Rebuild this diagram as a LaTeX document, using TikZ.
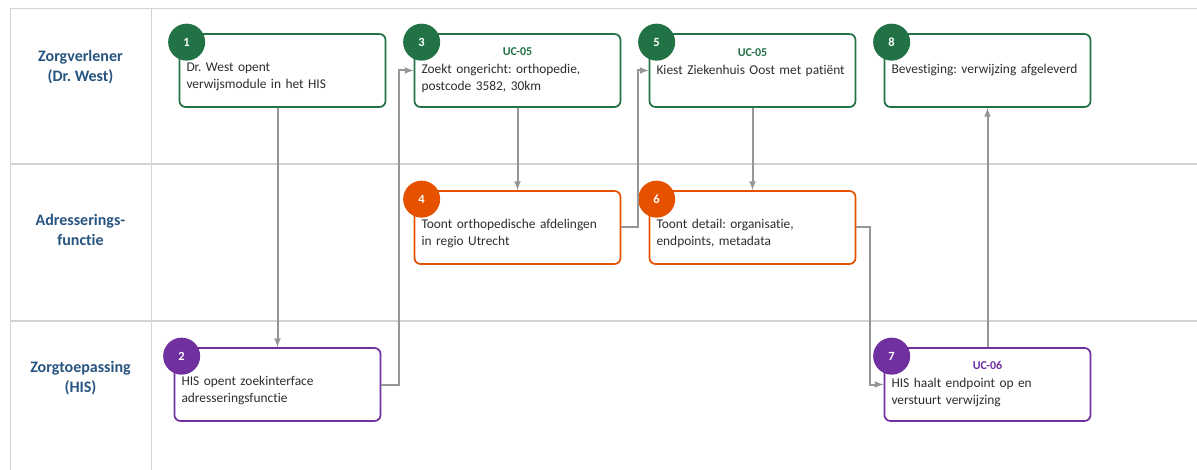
\documentclass[tikz,border=0pt]{standalone}
\usepackage{fontspec}
\setmainfont{Carlito}[Ligatures=NoCommon]
\usepackage{tikz}
\usetikzlibrary{arrows}
\definecolor{zvgreen}{RGB}{33,115,70}
\definecolor{adorange}{RGB}{230,81,0}
\definecolor{hispurple}{RGB}{112,48,160}
\definecolor{laneblue}{RGB}{40,84,128}
\definecolor{txtgray}{RGB}{45,45,45}
\definecolor{linegray}{RGB}{150,150,150}
\definecolor{gridgray}{RGB}{212,212,212}
\frenchspacing
\newcommand{\toprl}{\rule{0pt}{21pt}}
\newcommand{\ucline}[2]{\makebox[192pt][c]{\fontsize{12}{17}\selectfont\bfseries\textcolor{#1}{UC-#2}}}
\tikzstyle{stepbox} = [rectangle, rounded corners=6pt, minimum width=206pt, minimum height=73pt, text width=192pt, inner xsep=7pt, inner ysep=0pt, align=left, line width=1.7pt, fill=white, text=txtgray, font=\fontsize{13.4}{17.5}\selectfont]
\tikzstyle{zv} = [stepbox, draw=zvgreen]
\tikzstyle{ad} = [stepbox, draw=adorange]
\tikzstyle{his} = [stepbox, draw=hispurple]
\tikzstyle{badge} = [circle, minimum size=37pt, inner sep=0pt, text=white, font=\fontsize{12.5}{12.5}\selectfont\bfseries]
\tikzstyle{lane} = [text=laneblue, align=center, font=\fontsize{16}{20}\selectfont\bfseries]
\tikzstyle{arrow} = [line width=2pt, draw=linegray, ->, >=latex]
\tikzstyle{grid} = [draw=gridgray, line width=1pt]

\begin{document}
\begin{tikzpicture}[x=1pt, y=1pt, node distance=235pt]
\useasboundingbox (0,0) rectangle (1197,-470);

% lanes
\draw [grid] (10,-470) -- (10,-9) -- (1197,-9);
\draw [grid] (151,-9) -- (151,-470);
\draw [grid, line width=2.5pt] (10,-164) -- (1197,-164);
\draw [grid, line width=2.5pt] (10,-321) -- (1197,-321);

\node (lane1) [lane] at (80.5,-67) {Zorgverlener\\(Dr. West)};
\node (lane2) [lane] at (80.5,-230) {Adresserings-\\functie};
\node (lane3) [lane] at (80.5,-378) {Zorgtoepassing\\(HIS)};

% steps
\node (b1) [zv] at (282.5,-70.5) {\toprl Dr. West opent\\verwijsmodule in het HIS};
\node (b3) [zv, right of=b1] {\ucline{zvgreen}{05}\\Zoekt ongericht: orthopedie,\\postcode 3582, 30km};
\node (b5) [zv, right of=b3] {\ucline{zvgreen}{05}\\Kiest Ziekenhuis Oost met patiënt\\\mbox{}};
\node (b8) [zv, right of=b5] {Bevestiging: verwijzing afgeleverd};
\node (b4) [ad, below of=b3, node distance=157pt] {\toprl Toont orthopedische afdelingen\\in regio Utrecht};
\node (b6) [ad, below of=b5, node distance=157pt] {\toprl Toont detail: organisatie,\\endpoints, metadata};
\node (b2) [his, below of=b1, node distance=314pt, xshift=-5pt] {\toprl HIS opent zoekinterface\\adresseringsfunctie};
\node (b7) [his, below of=b8, node distance=314pt] {\ucline{hispurple}{06}\\HIS haalt endpoint op en\\verstuurt verwijzing};

% numbers
\node (n1) [badge, fill=zvgreen] at ([shift={(8pt,-9pt)}]b1.north west) {1};
\node (n2) [badge, fill=hispurple] at ([shift={(8pt,-9pt)}]b2.north west) {2};
\node (n3) [badge, fill=zvgreen] at ([shift={(8pt,-9pt)}]b3.north west) {3};
\node (n4) [badge, fill=adorange] at ([shift={(8pt,-9pt)}]b4.north west) {4};
\node (n5) [badge, fill=zvgreen] at ([shift={(8pt,-9pt)}]b5.north west) {5};
\node (n6) [badge, fill=adorange] at ([shift={(8pt,-9pt)}]b6.north west) {6};
\node (n7) [badge, fill=hispurple] at ([shift={(8pt,-9pt)}]b7.north west) {7};
\node (n8) [badge, fill=zvgreen] at ([shift={(8pt,-9pt)}]b8.north west) {8};

\draw [arrow] (b1.south -| b2.north) -- (b2.north);
\draw [arrow] (b2.east) -- ++(18pt,0) |- (b3.west);
\draw [arrow] (b3.south) -- (b3.south |- b4.north);
\draw [arrow] (b4.east) -- ++(17pt,0) |- (b5.west);
\draw [arrow] (b5.south) -- (b5.south |- b6.north);
\draw [arrow] (b6.east) -- ++(14pt,0) |- (b7.west);
\draw [arrow] (b7.north) -- (b7.north |- b8.south);

\end{tikzpicture}
\end{document}
